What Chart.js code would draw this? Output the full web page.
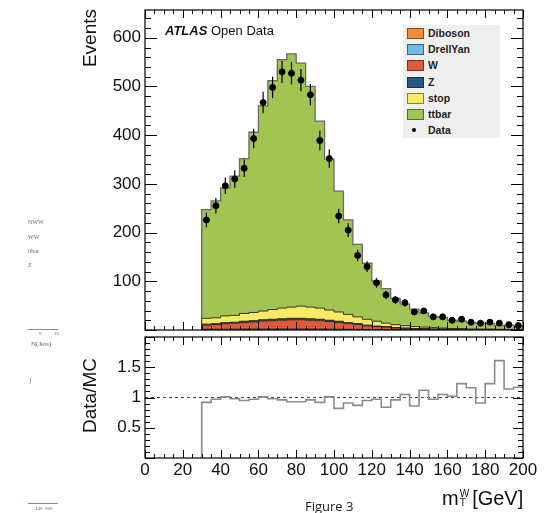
<!DOCTYPE html>
<html>
<head>
<meta charset="utf-8">
<script src="https://cdn.jsdelivr.net/npm/chart.js@4.4.0/dist/chart.umd.min.js"></script>
<style>
    body { margin: 0; background: #fff; width: 550px; height: 513px; overflow: hidden; position: relative; font-family: "Liberation Sans", Arial, sans-serif; }
    canvas { position: absolute; left: 0; }
    #mainChart { top: 0; }
    #ratioChart { top: 335px; }
    .vlabel { position: absolute; writing-mode: vertical-rl; transform: rotate(180deg); font-size: 19px; line-height: 20px; color: #111; white-space: nowrap; }
    #atlas { position: absolute; left: 165px; top: 24px; font-size: 13px; line-height: 13px; color: #111; }
    #atlas b { font-style: italic; }
    #legend { position: absolute; left: 403px; top: 25px; width: 97px; height: 113px; background: #efefef; }
    .row { height: 16.2px; line-height: 16.2px; font-size: 10.5px; font-weight: bold; color: #222; position: relative; padding-left: 25px; }
    .sw { position: absolute; left: 4px; top: 3px; width: 15px; height: 9px; border: 1px solid rgba(0,0,0,0.45); }
    .dot { position: absolute; left: 9px; top: 6px; width: 4px; height: 4px; border-radius: 50%; background: #000; }
    #xtitle { position: absolute; left: 442px; top: 487px; font-size: 20px; line-height: 22px; color: #111; white-space: nowrap; }
    .ss { display: inline-block; vertical-align: top; font-size: 10px; line-height: 9px; margin: 2px 3px 0 1px; }
    #fig { position: absolute; left: 305px; top: 497px; font-family: "Open Sans", sans-serif; font-size: 13px; color: #222; }
    .junk { position: absolute; font-family: "Liberation Serif", serif; font-size: 6px; color: #666; white-space: nowrap; }
</style>
</head>
<body>
<canvas id="mainChart" width="550" height="335"></canvas>
<canvas id="ratioChart" width="550" height="178"></canvas>

<div class="vlabel" style="left:80px; top:9px;">Events</div>
<div class="vlabel" style="left:80px; top:358px;">Data/MC</div>
<div id="atlas"><b>ATLAS</b> Open Data</div>
<div id="legend"></div>
<div id="xtitle">m<span class="ss">W<br>T</span>[GeV]</div>
<div id="fig">Figure 3</div>

<div class="junk" style="left:28px; top:219px;">NWW</div>
<div class="junk" style="left:28px; top:234px;">WW</div>
<div class="junk" style="left:28px; top:248px;">ttbar</div>
<div class="junk" style="left:28px; top:262px;">Z</div>
<div style="position:absolute; left:28px; top:329px; width:30px; border-top:1px solid #888;"></div>
<div class="junk" style="left:39px; top:331px; font-size:5px;">9</div>
<div class="junk" style="left:54px; top:331px; font-size:5px;">10</div>
<div class="junk" style="left:31px; top:340px; font-size:7px;">N(Jets)</div>
<div class="junk" style="left:29px; top:376px; font-size:7px;">]</div>
<div style="position:absolute; left:28px; top:503px; width:30px; border-top:1px solid #5a5;"></div>
<div class="junk" style="left:35px; top:506px; font-size:5px;">140&nbsp;&nbsp;200</div>

<script>
// bins of 5 GeV, histogram starts at 30 GeV
const binEdges = [30, 35, 40, 45, 50, 55, 60, 65, 70, 75, 80, 85, 90, 95, 100, 105, 110, 115,
    120, 125, 130, 135, 140, 145, 150, 155, 160, 165, 170, 175, 180, 185, 190, 195, 200];

const dibosonVals = [1, 1, 1, 1.2, 1.2, 1.3, 1.4, 1.5, 1.5, 1.5, 1.5, 1.5, 1.4, 1.3, 1.2, 1.1, 1, 0.9,
    0.8, 0.7, 0.6, 0.5, 0.5, 0.4, 0.3, 0.3, 0.3, 0.2, 0.2, 0.2, 0.2, 0.1, 0.1, 0.1];
const drellYanVals = [0.5, 0.5, 0.5, 0.5, 0.5, 0.5, 0.4, 0.4, 0.4, 0.4, 0.3, 0.3, 0.3, 0.3, 0.2, 0.2, 0.2, 0.2,
    0.1, 0.1, 0.1, 0.1, 0.1, 0.1, 0, 0, 0, 0, 0, 0, 0, 0, 0, 0];
const wVals = [8.5, 9.5, 11.5, 12.3, 13.8, 14.7, 16.7, 17.1, 18.1, 19.1, 19.2, 18.2, 17.3, 15.9, 14.1, 11.7, 9.8, 7.4,
    5.9, 5.2, 3.5, 2.8, 1.9, 2.1, 1.4, 1.4, 1.0, 0.8, 0.6, 0.7, 0.5, 0.4, 0.3, 0.2];
const zVals = [2, 2, 2, 2, 2.5, 2.5, 2.5, 3, 3, 3, 3, 3, 3, 2.5, 2.5, 2, 2, 1.5,
    1.2, 1, 0.8, 0.6, 0.5, 0.4, 0.3, 0.3, 0.2, 0.2, 0.2, 0.1, 0.1, 0.1, 0.1, 0.1];
const stopVals = [12, 12, 14, 14, 16, 17, 18, 20, 22, 23, 25, 24, 23, 21, 19, 17, 14, 12,
    10, 7, 6, 5, 4, 3, 3, 2, 1.5, 1.8, 1, 1, 1.2, 0.9, 0.7, 0.6];
const ttbarVals = [223, 240, 263, 286, 318, 370, 421, 470, 510, 520, 499, 453, 384, 310, 248, 194, 149, 115,
    83, 71, 54, 44, 36, 29, 23, 22, 17, 15, 13, 12, 11, 7.5, 8.8, 7];

const dataVals = [226, 255, 296, 310, 332, 393, 467, 498, 530, 527, 513, 483, 389, 352, 234, 205, 153, 130,
    97, 72, 62, 56, 37, 39, 27, 27, 20, 22, 16, 14, 16, 14, 11, 9];
const dataErr = [15, 16, 17, 18, 18, 20, 22, 22, 23, 23, 23, 22, 20, 19, 15, 14, 12, 11,
    10, 8.5, 8, 7.5, 6, 6, 5, 5, 4.5, 4.7, 4, 3.7, 4, 3.7, 3.3, 3];

const ratioVals = [0.92, 0.97, 1.01, 0.98, 0.95, 0.97, 1.01, 0.98, 0.96, 0.93, 0.93, 0.96, 0.92, 1.01, 0.82, 0.91, 0.87, 0.95,
    0.97, 0.84, 0.96, 1.05, 0.86, 1.12, 0.97, 1.05, 1.02, 1.23, 1.16, 0.91, 1.23, 1.61, 1.14, 1.17];

const seriesNames = ['Diboson', 'DrellYan', 'W', 'Z', 'stop', 'ttbar'];
const seriesVals = [dibosonVals, drellYanVals, wVals, zVals, stopVals, ttbarVals];
const seriesColors = ['#f28a3a', '#6dbbe6', '#e05a3a', '#245b85', '#f8ea62', '#a2c452'];
const seriesLines = ['#333', '#333', '#2a2a2a', '#222', '#333', '#6a6a6a'];

const tickFont = { family: '"Liberation Sans", Arial, sans-serif', size: 17 };

// legend
document.getElementById('legend').innerHTML = seriesNames.map((n, i) =>
    `<div class="row"><span class="sw" style="background:${seriesColors[i]}"></span>${n}</div>`
).join('') + '<div class="row"><span class="dot"></span>Data</div>';

// stepped outline points: start at 0 on the left edge, then one point per bin edge
function stepPoints(vals) {
    const pts = [{ x: binEdges[0], y: 0 }];
    binEdges.forEach((e, i) => pts.push({ x: e, y: vals[Math.min(i, vals.length - 1)] }));
    return pts;
}

// fixed axis sizes, no automatic padding for labels
const fixWidth = w => s => { s.width = w; s.paddingTop = 0; s.paddingBottom = 0; };
const fixHeight = h => s => { s.height = h; s.paddingLeft = 0; s.paddingRight = 0; };

// ROOT style frame with inward ticks on all four sides
const rootFrame = {
    id: 'rootFrame',
    afterDraw(chart, args, o) {
        const { ctx, chartArea: a, scales: { x, y } } = chart;
        ctx.save();
        ctx.strokeStyle = '#000';
        ctx.lineWidth = 1;
        const line = (x1, y1, x2, y2) => { ctx.beginPath(); ctx.moveTo(x1, y1); ctx.lineTo(x2, y2); ctx.stroke(); };
        const isMajor = (v, m) => Math.abs(v / m - Math.round(v / m)) < 1e-6;
        for (let v = x.min; v <= x.max + 1e-9; v += o.xMinor) {
            const px = Math.round(x.getPixelForValue(v)) + 0.5;
            const len = isMajor(v, o.xMajor) ? o.xLen[0] : o.xLen[1];
            line(px, a.bottom, px, a.bottom - len);
            line(px, a.top, px, a.top + len);
        }
        for (let v = y.min; v <= y.max + 1e-9; v += o.yMinor) {
            const py = Math.round(y.getPixelForValue(v)) + 0.5;
            const len = isMajor(v, o.yMajor) ? o.yLen[0] : o.yLen[1];
            line(a.left, py, a.left + len, py);
            line(a.right, py, a.right - len, py);
        }
        ctx.lineWidth = 1.2;
        ctx.strokeRect(a.left, a.top, a.right - a.left, a.bottom - a.top);
        ctx.restore();
    }
};

// vertical error bars on the data points
const errorBars = {
    id: 'errorBars',
    afterDatasetsDraw(chart) {
        if (!chart.options.plugins.errorBars) return;
        const { ctx, scales: { x, y } } = chart;
        ctx.save();
        ctx.strokeStyle = '#000';
        ctx.lineWidth = 1.2;
        dataVals.forEach((v, i) => {
            const px = x.getPixelForValue(binEdges[i] + 2.5);
            ctx.beginPath();
            ctx.moveTo(px, y.getPixelForValue(v - dataErr[i]));
            ctx.lineTo(px, y.getPixelForValue(v + dataErr[i]));
            ctx.stroke();
        });
        ctx.restore();
    }
};

// cumulative stack, bottom layer first
const cumulative = [];
seriesVals.forEach((vals, k) => {
    cumulative.push(vals.map((v, i) => v + (k ? cumulative[k - 1][i] : 0)));
});

const stackSets = seriesNames.map((n, k) => ({
    label: n,
    data: stepPoints(cumulative[k]),
    stepped: 'before',
    backgroundColor: seriesColors[k],
    borderColor: seriesLines[k],
    borderWidth: k === 5 ? 1.3 : 1,
    pointRadius: 0,
    fill: k === 0 ? 'origin' : '-1'
}));

new Chart(document.getElementById('mainChart'), {
    type: 'line',
    data: {
        datasets: [{
            label: 'Data',
            data: dataVals.map((v, i) => ({ x: binEdges[i] + 2.5, y: v })),
            showLine: false,
            pointRadius: 3,
            pointBackgroundColor: '#000',
            pointBorderColor: '#000',
            fill: false
        }, ...stackSets]
    },
    options: {
        responsive: false,
        animation: false,
        layout: { padding: { top: 10, right: 27, left: 0, bottom: 0 } },
        plugins: {
            legend: { display: false },
            tooltip: { enabled: false },
            errorBars: true,
            rootFrame: { xMajor: 20, xMinor: 5, xLen: [8, 4], yMajor: 100, yMinor: 20, yLen: [12, 6] }
        },
        scales: {
            x: {
                type: 'linear', min: 0, max: 200,
                ticks: { display: false },
                grid: { display: false, drawTicks: false },
                border: { display: false },
                afterFit: fixHeight(2)
            },
            y: {
                min: 0, max: 657,
                ticks: { stepSize: 100, font: tickFont, color: '#111', padding: 4,
                    callback: v => (v > 0 && v % 100 === 0) ? String(v) : null },
                grid: { display: false, drawTicks: false },
                border: { display: false },
                afterFit: fixWidth(145)
            }
        }
    },
    plugins: [rootFrame, errorBars]
});

new Chart(document.getElementById('ratioChart'), {
    type: 'line',
    data: {
        datasets: [{
            data: stepPoints(ratioVals),
            stepped: 'before',
            borderColor: '#8a8a8a',
            borderWidth: 1.6,
            pointRadius: 0,
            fill: false
        }, {
            data: [{ x: 0, y: 1 }, { x: 200, y: 1 }],
            borderColor: '#444',
            borderWidth: 1,
            borderDash: [3, 3],
            pointRadius: 0,
            fill: false
        }]
    },
    options: {
        responsive: false,
        animation: false,
        layout: { padding: { top: 2, right: 27, left: 0, bottom: 0 } },
        plugins: {
            legend: { display: false },
            tooltip: { enabled: false },
            rootFrame: { xMajor: 20, xMinor: 5, xLen: [8, 4], yMajor: 0.5, yMinor: 0.1, yLen: [10, 5] }
        },
        scales: {
            x: {
                type: 'linear', min: 0, max: 200,
                ticks: { stepSize: 20, font: tickFont, color: '#111', padding: 2, maxRotation: 0, autoSkip: false },
                grid: { display: false, drawTicks: false },
                border: { display: false },
                afterFit: fixHeight(55)
            },
            y: {
                min: 0, max: 2,
                ticks: { stepSize: 0.5, font: tickFont, color: '#111', padding: 4,
                    callback: v => (v > 0 && v < 2) ? String(v) : null },
                grid: { display: false, drawTicks: false },
                border: { display: false },
                afterFit: fixWidth(145)
            }
        }
    },
    plugins: [rootFrame]
});
</script>
</body>
</html>
